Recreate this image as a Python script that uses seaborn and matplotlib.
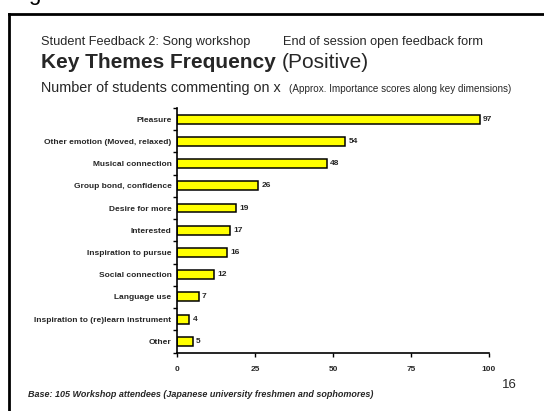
import matplotlib
matplotlib.use("Agg")
import matplotlib.pyplot as plt
import seaborn as sns
import pandas as pd
from matplotlib.lines import Line2D
from matplotlib.ticker import FixedLocator

# Feedback themes and number of students mentioning each
themes = [
    "Pleasure",
    "Other emotion (Moved, relaxed)",
    "Musical connection",
    "Group bond, confidence",
    "Desire for more",
    "Interested",
    "Inspiration to pursue",
    "Social connection",
    "Language use",
    "Inspiration to (re)learn instrument",
    "Other",
]
counts = [97, 54, 48, 26, 19, 17, 16, 12, 7, 4, 5]
x_ticks = [0, 25, 50, 75, 100]

df = pd.DataFrame({"theme": themes, "count": counts})

sns.set_theme(style="white")
plt.rcParams["font.family"] = ["Liberation Sans", "DejaVu Sans"]

W, H = 544, 411
fig = plt.figure(figsize=(W / 100, H / 100), dpi=100)


def fx(px):
    return px / W


def fy(py):
    return 1 - py / H


ax = fig.add_axes([fx(177), fy(352.5), 312 / W, 244.5 / H])

sns.barplot(data=df, y="theme", x="count", orient="h", color="#FFFF00",
            edgecolor="black", linewidth=1.1, width=0.4, saturation=1, ax=ax)

ax.set_xlim(0, 100)
ax.set_ylim(len(themes) - 0.5, -0.5)
ax.set_xlabel("")
ax.set_ylabel("")
ax.set_xticks(x_ticks)
ax.set_xticklabels([str(t) for t in x_ticks], fontsize=6, fontweight="bold")

# category labels without major ticks, minor ticks between categories
ax.set_yticks(range(len(themes)))
ax.set_yticklabels(themes, fontsize=6, fontweight="bold")
ax.yaxis.set_minor_locator(FixedLocator([i - 0.5 for i in range(len(themes) + 1)]))
ax.tick_params(axis="y", which="major", length=0, pad=4)
ax.tick_params(axis="y", which="minor", length=3, width=1, color="black", direction="out", left=True)
ax.tick_params(axis="x", which="major", length=3, width=1, color="black", direction="out",
               bottom=True, pad=7)

for s in ["top", "right"]:
    ax.spines[s].set_visible(False)
for s in ["left", "bottom"]:
    ax.spines[s].set_color("black")
    ax.spines[s].set_linewidth(1.2)

# value labels at bar ends
for i, v in enumerate(counts):
    ax.text(v + 1, i, str(v), va="center", ha="left", fontsize=6, fontweight="bold")

# slide frame, with the tail of the previous slide's heading peeking in at the top
fig.add_artist(Line2D([fx(8.5), fx(8.5)], [0, fy(14)], transform=fig.transFigure,
                      color="black", linewidth=2, solid_capstyle="projecting"))
fig.add_artist(Line2D([fx(8.5), 1.0], [fy(14), fy(14)], transform=fig.transFigure,
                      color="black", linewidth=2, solid_capstyle="projecting"))
fig.text(fx(28), fy(-16), "g", fontsize=16, va="top", ha="left", color="black")

# headings
fig.text(fx(41), fy(45.5), "Student Feedback 2: Song workshop", fontsize=9.2,
         va="baseline", ha="left")
fig.text(fx(283), fy(45.5), "End of session open feedback form", fontsize=9.2,
         va="baseline", ha="left")
t = fig.text(fx(41), fy(68), "Key Themes Frequency", fontsize=15, fontweight="bold",
             va="baseline", ha="left")
fig.canvas.draw()
bb = t.get_window_extent()
fig.text((bb.x1 + 6) / W, fy(68), "(Positive)", fontsize=15, va="baseline", ha="left")
t2 = fig.text(fx(41), fy(92), "Number of students commenting on x", fontsize=10.4,
              va="baseline", ha="left")
fig.canvas.draw()
bb2 = t2.get_window_extent()
fig.text((bb2.x1 + 8) / W, fy(92), "(Approx. Importance scores along key dimensions)",
         fontsize=7.1, va="baseline", ha="left")

# footer
fig.text(fx(28), fy(397),
         "Base: 105 Workshop attendees (Japanese university freshmen and sophomores)",
         fontsize=6.5, fontstyle="italic", fontweight="bold", va="baseline", ha="left")
fig.text(fx(517), fy(388), "16", fontsize=9.5, va="baseline", ha="right")

fig.savefig("out.png", dpi=100)
